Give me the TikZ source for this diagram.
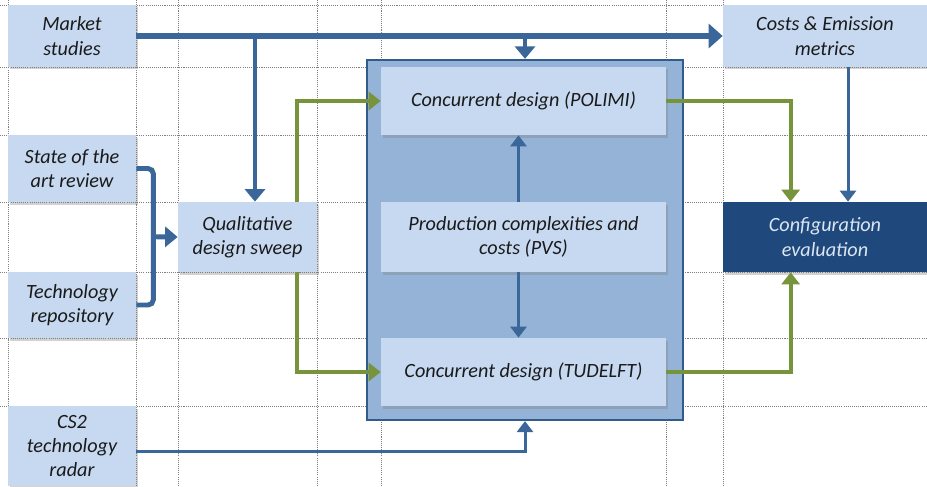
\documentclass[tikz,border=0pt]{standalone}
\usepackage{fontspec}
\setmainfont{Carlito}
\usetikzlibrary{arrows.meta, positioning, calc, shadows}
\definecolor{boxblue}{HTML}{C6D9F1}
\definecolor{frameblue}{HTML}{95B3D7}
\definecolor{edgeblue}{HTML}{2F5C8C}
\definecolor{navy}{HTML}{1F497D}
\definecolor{flowblue}{HTML}{3A6699}
\definecolor{olive}{HTML}{77933C}
\definecolor{gridgray}{HTML}{7F7F7F}
\definecolor{paleblue}{HTML}{DCE6F2}
\definecolor{inktext}{HTML}{1A1A1A}

\begin{document}
\begin{tikzpicture}[
  box/.style={fill=boxblue, text=inktext, font=\fontsize{11.5}{13.8}\selectfont\itshape, align=center,
    inner sep=0pt, drop shadow={shadow xshift=0.3mm, shadow yshift=-0.5mm, opacity=0.35}},
  darkbox/.style={box, fill=navy, text=paleblue},
  frame/.style={fill=frameblue, draw=edgeblue, line width=1.3pt, inner sep=0pt},
  mainflow/.style={flowblue, line width=3.4pt, -{Triangle[length=2.8mm, width=4.8mm]}},
  flow/.style={flowblue, line width=2.8pt, -{Triangle[length=2.5mm, width=4mm]}},
  bracket/.style={flowblue, line width=2.8pt, rounded corners=3pt},
  thinflow/.style={flowblue, line width=1.7pt, -{Triangle[length=2.2mm, width=3.2mm]}},
  greenflow/.style={olive, line width=2.3pt, -{Triangle[length=2.4mm, width=3.6mm]}},
  gridline/.style={gridgray, line width=0.5pt, dash pattern=on 0.6pt off 0.6pt}]

\useasboundingbox (0,0) rectangle (18.54,9.72);
\fill[white] (0,0) rectangle (18.54,9.72);

% Sheet grid
\foreach \x in {0.16,2.72,3.56,6.34,7.62,13.32,14.46} {
  \draw[gridline] (\x,0) -- (\x,9.72);
}
\foreach \y in {9.62,8.38,7.02,5.68,4.28,2.96,1.60} {
  \draw[gridline] (0,\y) -- (18.54,\y);
}

% Frame round the concurrent design block
\node[frame, minimum width=6.32cm, minimum height=7.2cm] (frame) at (10.50,4.92) {};

% Inputs (left column)
\node[box, minimum width=2.56cm, minimum height=1.24cm] (mkt) at (1.44,9.00) {Market\\studies};
\node[box, minimum width=2.56cm, minimum height=1.34cm] (soa) at (1.44,6.35) {State of the\\art review};
\node[box, minimum width=2.56cm, minimum height=1.32cm] (tech) at (1.44,3.62) {Technology\\repository};
\node[box, minimum width=2.56cm, minimum height=1.60cm] (cs2) at (1.44,0.80) {CS2\\technology\\radar};

% Sweep
\node[box, minimum width=2.78cm, minimum height=1.40cm] (qds) at (4.95,4.98) {Qualitative\\design sweep};

% Concurrent design block
\node[box, minimum width=5.70cm, minimum height=1.36cm] (polimi) at (10.47,7.70) {Concurrent design (POLIMI)};
\node[box, minimum width=5.70cm, minimum height=1.40cm] (pvs) at (10.47,4.98) {Production complexities and\\costs (PVS)};
\node[box, minimum width=5.70cm, minimum height=1.36cm] (tud) at (10.47,2.28) {Concurrent design (TUDELFT)};

% Right column
\node[box, minimum width=4.08cm, minimum height=1.24cm] (cost) at (16.50,9.00) {Costs \& Emission\\metrics};
\node[darkbox, minimum width=4.08cm, minimum height=1.40cm] (conf) at (16.50,4.98) {Configuration\\evaluation};

% Market studies feeds
\draw[mainflow] (mkt.east) -- (cost.west);
\draw[flow] ([xshift=1.5mm]qds.north |- mkt.east) -- ([xshift=1.5mm]qds.north);
\draw[flow] (frame.north |- mkt.east) -- (frame.north);

% Review + repository bracket
\draw[bracket] (soa.east) -- ++(0.34,0) |- (tech.east);
\coordinate (brk) at ($(soa.east)!0.5!(tech.east)+(0.34,0)$);
\draw[flow] (brk) -- (qds.west);

% Sweep to both design teams
\draw[greenflow] ([xshift=-4mm]qds.north east) |- (polimi.west);
\draw[greenflow] ([xshift=-4mm]qds.south east) |- (tud.west);

% Design teams to evaluation
\draw[greenflow] (polimi.east) -| ([xshift=13.6mm]conf.north west);
\draw[greenflow] (tud.east) -| ([xshift=13.6mm]conf.south west);
\draw[thinflow] ([xshift=4.6mm]cost.south) -- ([xshift=4.6mm]conf.north);

% PVS exchanges
\draw[thinflow] ([xshift=-1mm]pvs.north) -- ([xshift=-1mm]polimi.south);
\draw[thinflow] ([xshift=-1mm]pvs.south) -- ([xshift=-1mm]tud.north);

% Radar
\draw[thinflow] ([yshift=-1mm]cs2.east) -| (frame.south);

\end{tikzpicture}
\end{document}
